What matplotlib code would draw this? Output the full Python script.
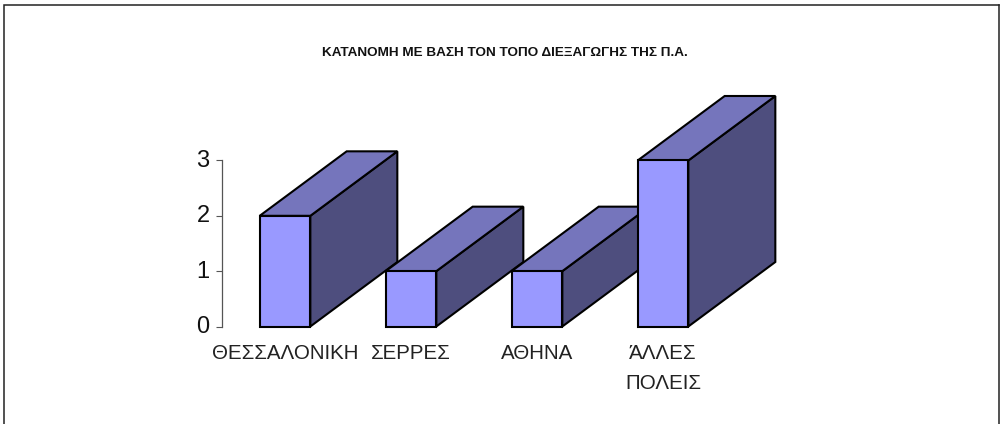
import matplotlib
matplotlib.use("Agg")
import matplotlib.pyplot as plt
from matplotlib.lines import Line2D
from matplotlib.patches import Polygon
from matplotlib.transforms import ScaledTranslation

categories = ["ΘΕΣΣΑΛΟΝΙΚΗ", "ΣΕΡΡΕΣ", "ΑΘΗΝΑ", "ΆΛΛΕΣ\nΠΟΛΕΙΣ"]
values = [2, 1, 1, 3]
y_ticks = [0, 1, 2, 3]
title = "ΚΑΤΑΝΟΜΗ ΜΕ ΒΑΣΗ ΤΟΝ ΤΟΠΟ ΔΙΕΞΑΓΩΓΗΣ ΤΗΣ Π.Α."

W, H = 1000, 424
plt.rcParams["font.family"] = ["Liberation Sans", "DejaVu Sans"]
fig = plt.figure(figsize=(W / 100, H / 100), dpi=100, facecolor="white")

def line(xs, ys):
    fig.add_artist(Line2D([x / W for x in xs], [1 - y / H for y in ys],
                          color="#222222", lw=1.1, solid_joinstyle="miter"))
line([3.5, 3.5, 999], [424, 5, 5])
line([999, 999], [5, 424])

# axes spanning the plotted range, px: x 222-726, y 160.5-326.5
ax = fig.add_axes([222 / W, 1 - 326.5 / H, 504 / W, 166 / H])
ax.set_xlim(-0.5, 3.5)
ax.set_ylim(0, 3)
ax.patch.set_alpha(0)

bar_w = 0.402
dx = 87 / 126      # depth in category units
dy = 64.5 / 55.33  # depth in value units
front, top, side = "#9999FF", "#7575BC", "#4E4E7E"
style = dict(edgecolor="black", linewidth=1.5, joinstyle="miter", clip_on=False)

for i, v in enumerate(values):
    l, r = i - bar_w / 2, i + bar_w / 2
    ax.add_patch(Polygon([(r, 0), (r + dx, dy), (r + dx, v + dy), (r, v)], facecolor=side, **style))
    ax.add_patch(Polygon([(l, v), (r, v), (r + dx, v + dy), (l + dx, v + dy)], facecolor=top, **style))
    ax.add_patch(Polygon([(l, 0), (r, 0), (r, v), (l, v)], facecolor=front, **style))

for s in ["top", "right", "bottom"]:
    ax.spines[s].set_visible(False)
ax.spines["left"].set_color("#555555")
ax.spines["left"].set_linewidth(0.9)
ax.set_yticks(y_ticks)
ax.tick_params(axis="y", length=4.5, width=0.8, color="#555555", labelsize=17, pad=4.5, labelcolor="#111111")
up = ScaledTranslation(0, 2 / 72 * 72 / 100, fig.dpi_scale_trans)
for lab in ax.get_yticklabels():
    lab.set_transform(lab.get_transform() + up)
ax.set_xticks(range(len(categories)))
ax.set_xticklabels(categories, fontsize=14.8, linespacing=1.75, color="#222222")
ax.tick_params(axis="x", length=0, pad=12.5)

fig.text(505 / W, 1 - 53 / H, title, fontsize=9.7, fontweight="bold", ha="center", va="center", color="#111111")
fig.savefig("out.png", dpi=100)
